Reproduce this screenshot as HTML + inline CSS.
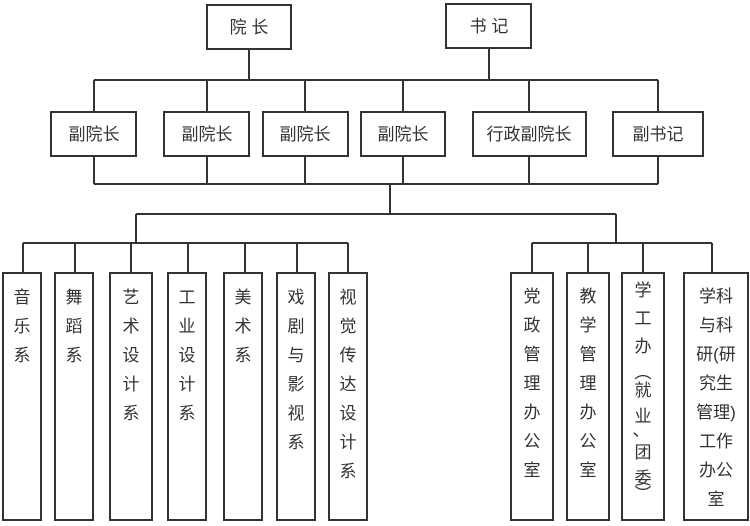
<!DOCTYPE html>
<html><head><meta charset="utf-8"><style>
body{margin:0;background:#fff}
svg{display:block}
text{font-family:"Liberation Sans","Noto Sans CJK SC",sans-serif;font-size:17px;fill:#333;text-anchor:middle}
</style></head><body>
<svg width="750" height="526" viewBox="0 0 750 526">
<g stroke="#333" stroke-width="2" fill="none">
<rect x="207" y="5" width="84" height="44" fill="#fff"/>
<rect x="446" y="4" width="85" height="44" fill="#fff"/>
<path d="M249 49V80M489 48V80M94 80H658"/>
<path d="M94 80V112M207 80V112M305 80V112M403 80V112M529 80V112M658 80V112"/>
<rect x="51" y="112" width="85" height="44"/>
<rect x="164" y="112" width="85" height="44"/>
<rect x="263" y="112" width="85" height="44"/>
<rect x="361" y="112" width="84" height="44"/>
<rect x="473" y="112" width="113" height="44"/>
<rect x="613" y="112" width="90" height="44"/>
<path d="M94 156V184M207 156V184M305 156V184M403 156V184M529 156V184M658 156V184M94 184H658"/>
<path d="M390 184V214M136 214H616M136 214V243M616 214V243"/>
<path d="M23 243H348M23 243V273M75 243V273M131 243V273M188 243V273M245 243V273M297 243V273M348 243V273"/>
<path d="M532 243H712M532 243V273M588 243V273M643 243V273M712 243V273"/>
<rect x="3" y="273" width="38" height="247"/>
<rect x="55" y="273" width="38" height="247"/>
<rect x="110" y="273" width="42" height="247"/>
<rect x="168" y="273" width="38" height="247"/>
<rect x="224" y="273" width="38" height="247"/>
<rect x="277" y="273" width="38" height="247"/>
<rect x="329" y="273" width="38" height="247"/>
<rect x="511" y="273" width="42" height="247"/>
<rect x="567" y="273" width="42" height="247"/>
<rect x="622" y="273" width="42" height="247"/>
<rect x="684" y="273" width="64" height="247"/>
</g>
<text x="249" y="33">院  长</text>
<text x="489" y="32">书  记</text>
<text x="94" y="140">副院长</text>
<text x="207" y="140">副院长</text>
<text x="305" y="140">副院长</text>
<text x="403" y="140">副院长</text>
<text x="529" y="140">行政副院长</text>
<text x="658" y="140">副书记</text>
<text x="22" y="303">音</text><text x="22" y="332">乐</text><text x="22" y="361">系</text>
<text x="74" y="303">舞</text><text x="74" y="332">蹈</text><text x="74" y="361">系</text>
<text x="131" y="303">艺</text><text x="131" y="332">术</text><text x="131" y="361">设</text><text x="131" y="390">计</text><text x="131" y="419">系</text>
<text x="187" y="303">工</text><text x="187" y="332">业</text><text x="187" y="361">设</text><text x="187" y="390">计</text><text x="187" y="419">系</text>
<text x="243" y="303">美</text><text x="243" y="332">术</text><text x="243" y="361">系</text>
<text x="296" y="303">戏</text><text x="296" y="332">剧</text><text x="296" y="361">与</text><text x="296" y="390">影</text><text x="296" y="419">视</text><text x="296" y="448">系</text>
<text x="348" y="303">视</text><text x="348" y="332">觉</text><text x="348" y="361">传</text><text x="348" y="390">达</text><text x="348" y="419">设</text><text x="348" y="448">计</text><text x="348" y="477">系</text>
<text x="532" y="302">党</text><text x="532" y="331">政</text><text x="532" y="360">管</text><text x="532" y="389">理</text><text x="532" y="418">办</text><text x="532" y="447">公</text><text x="532" y="476">室</text>
<text x="588" y="302">教</text><text x="588" y="331">学</text><text x="588" y="360">管</text><text x="588" y="389">理</text><text x="588" y="418">办</text><text x="588" y="447">公</text><text x="588" y="476">室</text>
<text x="643" y="296">学</text><text x="643" y="324">工</text><text x="643" y="352">办</text><text x="643" y="378">︵</text><text x="643" y="396">就</text><text x="643" y="422">业</text><text x="641" y="436">、</text><text x="643" y="458">团</text><text x="643" y="484">委</text><text x="643" y="500">︶</text>
<text x="716" y="302">学科</text><text x="716" y="331">与科</text><text x="716" y="360">研(研</text><text x="716" y="389">究生</text><text x="716" y="418">管理)</text><text x="716" y="447">工作</text><text x="716" y="476">办公</text><text x="716" y="505">室</text>
</svg>
</body></html>
